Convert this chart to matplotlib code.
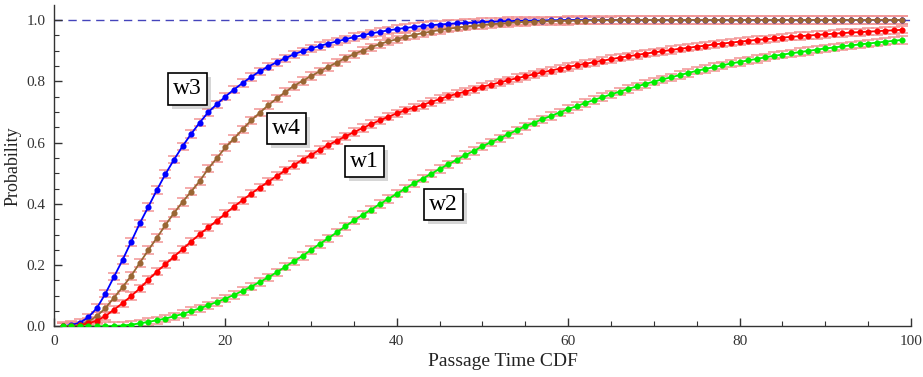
import numpy as np
import matplotlib.pyplot as plt
import matplotlib.patheffects as pe

plt.rcParams['font.family'] = ['Liberation Serif', 'DejaVu Serif']

# passage time steps
t = list(range(1, 100))

w3 = [0.001, 0.005, 0.012, 0.030, 0.060, 0.107, 0.162, 0.217, 0.276, 0.336,
      0.390, 0.445, 0.497, 0.544, 0.588, 0.628, 0.665, 0.699, 0.725, 0.750,
      0.773, 0.794, 0.814, 0.832, 0.848, 0.862, 0.875, 0.888, 0.898, 0.907,
      0.915, 0.923, 0.930, 0.937, 0.944, 0.950, 0.956, 0.961, 0.966, 0.970,
      0.974, 0.977, 0.980, 0.983, 0.985, 0.987, 0.989, 0.990, 0.991, 0.993,
      0.994, 0.995, 0.996, 0.997, 0.997, 0.998, 0.998, 0.999, 0.999, 1.000,
      1.000, 1.000, 1.000, 1.000, 1.000, 1.000, 1.000, 1.000, 1.000, 1.000,
      1.000, 1.000, 1.000, 1.000, 1.000, 1.000, 1.000, 1.000, 1.000, 1.000,
      1.000, 1.000, 1.000, 1.000, 1.000, 1.000, 1.000, 1.000, 1.000, 1.000,
      1.000, 1.000, 1.000, 1.000, 1.000, 1.000, 1.000, 1.000, 1.000]

w4 = [0.000, 0.001, 0.004, 0.016, 0.034, 0.060, 0.094, 0.128, 0.165, 0.207,
      0.249, 0.289, 0.331, 0.370, 0.406, 0.440, 0.474, 0.515, 0.549, 0.584,
      0.613, 0.643, 0.672, 0.697, 0.722, 0.744, 0.765, 0.785, 0.801, 0.817,
      0.832, 0.847, 0.861, 0.875, 0.888, 0.900, 0.911, 0.921, 0.930, 0.937,
      0.945, 0.951, 0.957, 0.962, 0.967, 0.971, 0.975, 0.978, 0.981, 0.984,
      0.986, 0.988, 0.990, 0.992, 0.993, 0.994, 0.995, 0.996, 0.997, 0.997,
      0.998, 0.998, 0.999, 0.999, 0.999, 1.000, 1.000, 1.000, 1.000, 1.000,
      1.000, 1.000, 1.000, 1.000, 1.000, 1.000, 1.000, 1.000, 1.000, 1.000,
      1.000, 1.000, 1.000, 1.000, 1.000, 1.000, 1.000, 1.000, 1.000, 1.000,
      1.000, 1.000, 1.000, 1.000, 1.000, 1.000, 1.000, 1.000, 1.000]

w1 = [0.000, 0.001, 0.004, 0.010, 0.019, 0.034, 0.055, 0.076, 0.099, 0.124,
      0.152, 0.179, 0.203, 0.228, 0.252, 0.277, 0.301, 0.323, 0.345, 0.368,
      0.391, 0.412, 0.433, 0.453, 0.472, 0.491, 0.509, 0.527, 0.544, 0.560,
      0.576, 0.592, 0.606, 0.620, 0.634, 0.647, 0.660, 0.672, 0.684, 0.695,
      0.705, 0.714, 0.723, 0.732, 0.742, 0.751, 0.759, 0.766, 0.774, 0.782,
      0.789, 0.796, 0.803, 0.810, 0.816, 0.823, 0.829, 0.835, 0.841, 0.847,
      0.852, 0.857, 0.862, 0.867, 0.872, 0.877, 0.881, 0.886, 0.890, 0.894,
      0.898, 0.902, 0.906, 0.909, 0.913, 0.916, 0.920, 0.923, 0.926, 0.929,
      0.932, 0.935, 0.937, 0.940, 0.942, 0.945, 0.947, 0.949, 0.951, 0.953,
      0.955, 0.957, 0.959, 0.960, 0.962, 0.963, 0.965, 0.966, 0.968]

w2 = [0.000, 0.000, 0.000, 0.000, 0.000, 0.001, 0.002, 0.003, 0.006, 0.010,
      0.015, 0.020, 0.026, 0.033, 0.041, 0.050, 0.059, 0.069, 0.080, 0.091,
      0.103, 0.116, 0.130, 0.145, 0.160, 0.177, 0.195, 0.213, 0.230, 0.250,
      0.269, 0.288, 0.307, 0.327, 0.346, 0.364, 0.381, 0.399, 0.416, 0.433,
      0.450, 0.467, 0.482, 0.498, 0.514, 0.529, 0.544, 0.559, 0.573, 0.588,
      0.601, 0.614, 0.627, 0.640, 0.653, 0.665, 0.676, 0.687, 0.698, 0.709,
      0.719, 0.729, 0.739, 0.748, 0.757, 0.766, 0.775, 0.783, 0.791, 0.799,
      0.806, 0.813, 0.820, 0.827, 0.834, 0.840, 0.846, 0.852, 0.858, 0.863,
      0.868, 0.873, 0.878, 0.883, 0.887, 0.891, 0.895, 0.899, 0.903, 0.907,
      0.910, 0.914, 0.917, 0.920, 0.923, 0.926, 0.929, 0.932, 0.935]

err = 0.012

series = [("w3", w3, "#0000ff", (15.6, 0.775)),
          ("w4", w4, "#996633", (27.1, 0.646)),
          ("w1", w1, "#ff0000", (36.2, 0.538)),
          ("w2", w2, "#00ee00", (45.4, 0.398))]

fig = plt.figure(figsize=(9.23, 3.77), dpi=100)
ax = fig.add_axes([0.0585, 0.134, 0.9285, 0.853])

ax.axhline(1.0, color="#4444bb", lw=1.0, ls=(0, (6, 4)), zorder=1)

for name, vals, col, pos in series:
    ax.errorbar(t, vals, yerr=err, fmt="none", ecolor="#f39595", elinewidth=1.1,
                capsize=4, capthick=1.1, zorder=2)
    ax.plot(t, vals, color=col, lw=1.3, marker="o", markersize=3.4, zorder=3)
    txt = ax.text(pos[0], pos[1], name, fontsize=17, ha="center", va="center", zorder=5,
                  bbox=dict(boxstyle="square,pad=0.22", fc="white", ec="black", lw=1.2))
    txt.get_bbox_patch().set_path_effects([
        pe.withSimplePatchShadow(offset=(3, -3), shadow_rgbFace="#999999", alpha=0.4)])

ax.set_xlim(0, 100)
ax.set_ylim(0, 1.049)
ax.set_xticks([0, 20, 40, 60, 80, 100])
ax.set_xticks(np.arange(0, 101, 5), minor=True)
ax.set_yticks([0.0, 0.2, 0.4, 0.6, 0.8, 1.0])
ax.set_yticks(np.arange(0, 1.01, 0.05), minor=True)
ax.set_yticklabels(["0.0", "0.2", "0.4", "0.6", "0.8", "1.0"])

ax.spines["top"].set_visible(False)
ax.spines["right"].set_visible(False)
for s in ["left", "bottom"]:
    ax.spines[s].set_color("#333333")
    ax.spines[s].set_linewidth(1.0)
ax.tick_params(which="major", direction="in", length=6, width=1.0, color="#333333",
               labelsize=11, labelcolor="#333333", pad=6)
ax.tick_params(which="minor", direction="in", length=3.5, width=0.8, color="#333333")

ax.set_xlabel("Passage Time CDF", fontsize=14, color="#222222", va="top")
ax.xaxis.set_label_coords(0.524, -0.081)
ax.set_ylabel("Probability", fontsize=13, color="#222222", labelpad=4)

fig.savefig("out.png", dpi=100)
